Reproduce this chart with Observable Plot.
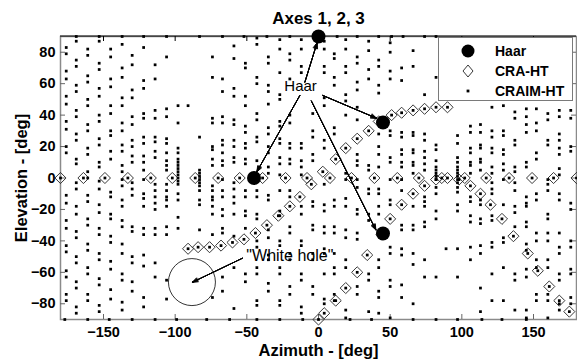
<!DOCTYPE html>
<html><head><meta charset="utf-8">
<script src="https://cdn.jsdelivr.net/npm/d3@7"></script>
<script src="https://cdn.jsdelivr.net/npm/@observablehq/plot@0.6"></script>
<style>
body{margin:0;background:#fff;}
#wrap{position:relative;width:577px;height:360px;font-family:"Liberation Sans",Arial,sans-serif;}
#legend{position:absolute;left:438px;top:37px;width:135px;height:64px;background:#fff;border:1px solid #7a7a7a;box-sizing:border-box;}
.row{position:absolute;left:0;width:134px;height:20px;}
.row svg{position:absolute;left:19px;top:0;}
.row span{position:absolute;left:56px;top:1px;font-size:14px;font-weight:bold;line-height:18px;}
</style></head>
<body><div id="wrap"></div>
<script>
// ---- data (azimuth, elevation in degrees) ----
const titleText = "Axes 1, 2, 3";
const xLabel = "Azimuth - [deg]";
const yLabel = "Elevation - [deg]";
const xTicks = [-150, -100, -50, 0, 50, 100, 150];
const yTicks = [-80, -60, -40, -20, 0, 20, 40, 60, 80];

const haarAz = [0, 45, -45, 45];
const haarEl = [90, 35.26, 0, -35.26];

const craEquatorAz = [-180,-164,-149,-133,-117,-102,-86,-70,-55,-39,-23,-8,8,23,39,55,70,86,102,117,133,149,164,180];
const craRiseAz = [-91,-84,-76,-68,-60,-52,-44,-36,-28,-20,-13,-5,3,12,19,27,35,42,51,58,66,74,82,90];
const craRiseEl = [-45,-44,-44,-43,-41,-39,-35,-30,-24,-18,-12,-4,4,12,19,25,30,36,40,41.5,43,44,45,45];
const craFallAz = [0,4,12,19,27,34,44,50,58,66,74,82,90,98,106,113,120,128,136,146,153,161,168,175];
const craFallEl = [-90,-86,-78,-70,-60,-49,-36,-26,-17,-10,-5,-1,0,-1,-5,-10,-17,-26,-37,-48,-59,-69,-78,-85];

// CRAIM-HT: columns of [azimuth, elevations]
const craimColumns = [
  [-176, [83,79,68,63,52,47,36,31,20,16,-11,-16,-27,-32,-43,-47,-59,-63,-74,-78]],
  [-169, [87,75,71,59,55,43,39,28,24,12,9,-3,-7,-18,-23,-34,-38,-50,-54,-66,-70,-82,-86]],
  [-161, [82,78,65,61,50,46,34,30,19,15,4,0,-11,-15,-26,-30,-42,-46,-57,-61,-74,-78]],
  [-153, [87,73,69,57,52,40,36,25,21,10,7,-2,-7,-17,-22,-32,-36,-48,-52,-64,-68,-81,-85]],
  [-145, [82,77,63,58,46,41,30,27,17,12,-9,-12,-23,-26,-37,-41,-53,-58,-71,-77]],
  [-137, [85,70,64,51,46,35,30,21,17,8,4,-1,-5,-14,-18,-27,-31,-42,-48,-61,-65,-79,-84]],
  [-130, [78,72,56,51,39,34,24,20,14,10,-3,-7,-11,-31,-34,-50,-54,-66,-72]],
  [-122, [83,62,57,41,38,26,22,14,10,5,-1,-10,-13,-18,-32,-36,-49,-56,-76,-82]],
  [-114, [72,63,43,38,26,23,17,13,-4,-8,-12,-16,-20,-32,-36,-54,-63]],
  [-106, [77,44,39,25,22,16,11,8,5,-4,-8,-12,-14,-18,-31,-36,-65,-77]],
  [-98, [46,35,19,16,12,10,8,6,4,2,0,-2,-4,-10,-14,-25,-32]],
  [-91, [46]],
  [-83, [26,5,3,1,-1,-3,-5,-8,-14,-17,-33]],
  [-74, [77,64,38,35,20,18,12,8,-5,-8,-12,-14,-18,-23,-36,-76]],
  [-67, [63,55,39,35,24,21,16,11,8,-1,-8,-12,-20,-24,-32,-35,-63,-72]],
  [-59, [84,76,57,52,37,34,24,20,13,10,-3,-7,-12,-16,-23,-37,-57,-83]],
  [-51, [73,70,52,46,33,29,22,19,12,9,-8,-12,-21,-24,-32,-61,-66]],
  [-43, [89,85,64,60,41,37,26,23,11,-8,-12,-23,-26,-40,-44,-57,-61,-78,-81]],
  [-35, [77,73,59,55,47,32,28,20,16,7,3,-11,-14,-33,-38,-49,-52,-67,-72]],
  [-27, [88,82,67,53,50,36,33,25,22,13,9,2,-8,-21,-24,-40,-43,-57,-61,-78,-81]],
  [-20, [79,75,63,40,35,22,19,12,9,-8,-12,-31,-35,-48,-52,-69,-74]],
  [-12, [88,82,71,67,22,19,11,7,2,-18,-23,-40,-43,-61,-65,-82,-86]],
  [-4, [41,30,26,15,11,-15,-18,-30,-33,-48,-52,-69,-74]],
  [4, [87,82,71,67,51,46,24,19,-4,-17,-21,-31,-35,-45,-48,-61,-77,-80]],
  [11, [79,76,64,59,32,28,-14,-18,-31,-35,-48,-57,-61,-74,-78]],
  [19, [88,82,71,67,53,49,40,3,-1,-13,-18,-33,-38,-52,-57,-84,-89]],
  [27, [77,73,61,56,45,37,15,11,8,-1,-6,-20,-23,-35,-39,-69,-74]],
  [35, [87,81,69,63,8,5,-7,-10,-23,-27,-61,-65,-85]],
  [42, [75,71,59,54,28,20,15,7,-7,-10,-18,-23,-52,-57,-72,-76,-86]],
  [50, [86,80,68,63,30,27,13,10,-1,-14,-17,-44,-48,-65,-69,-89]],
  [58, [70,62,29,26,18,15,10,7,-1,-8,-30,-33,-45,-49,-68,-76]],
  [66, [81,71,29,27,18,16,10,8,3,-18,-30,-33,-48,-55,-80]],
  [74, [53,28,24,17,13,9,5,-12,-15,-18,-28,-31,-52,-63]],
  [82, [64,21,18,11,7,5,3,1,-1,-6,-10,-21,-26,-63]],
  [89, [-45]],
  [97, [27,22,13,10,7,5,3,1,-1,-3,-6,-9,-17,-21,-45,-63]],
  [106, [33,29,19,16,10,8,3,-12,-15,-24,-28,-44,-52]],
  [113, [34,29,21,19,12,10,5,-14,-17,-26,-29,-43,-48,-70,-85]],
  [121, [45,30,26,19,16,7,3,-3,-7,-10,-24,-27,-41,-44,-61,-78]],
  [129, [46,30,27,18,15,9,5,-1,-17,-38,-41,-57,-78]],
  [137, [42,38,24,21,7,4,-3,-8,-18,-22,-31,-61,-65,-84]],
  [145, [44,39,34,29,10,7,-12,-16,-18,-28,-31,-42,-46,-58,-63,-84,-89]],
  [152, [44,35,30,16,12,-10,-14,-35,-40,-52,-57,-74,-78]],
  [160, [41,37,24,21,-1,-4,-8,-23,-26,-35,-40,-52,-57,-74,-78,-89]],
  [168, [43,39,28,24,19,15,6,2,-10,-14,-35,-44,-48,-61,-65,-80,-84]],
  [176, [43,38,20,17,-16,-20,-40,-44,-58,-61,-76,-80]]
];
const craimTopAz = [-169,-153,-137,-122,-106,-83,-67,-52,-36,-20,13,27,42,51,59,74,82];
const craimBottomAz = [-177,-161,-146,-130,-114,-99,-78,-62,-43,-27,-11,22,37,66,82,97,114,128,145];

// annotations
const haarLabel = {az: -12.5, el: 58.5, text: "Haar"};
const haarArrowFrom = [[-9.5, 61], [-13, 52.5], [3, 52.5], [-5, 49]];
const haarArrowTo = [[-1, 86], [-43, 4], [40.5, 38], [40, -33]];
const holeLabel = {az: -20, el: -49.4, text: "\"White hole\""};
const holeCircle = {az: -88.3, el: -66.2};
const holeArrow = {x1: -53, y1: -51, x2: -88, y2: -66.3};

// ---- build tables ----
const haar = haarAz.map((az, i) => ({az, el: haarEl[i]}));
const cra = [
  ...craEquatorAz.map(az => ({az, el: 0})),
  ...craRiseAz.map((az, i) => ({az, el: craRiseEl[i]})),
  ...craFallAz.map((az, i) => ({az, el: craFallEl[i]}))
];
const craim = [
  ...craimColumns.flatMap(([az, els]) => els.map(el => ({az, el}))),
  ...craimTopAz.map(az => ({az, el: 90})),
  ...craimBottomAz.map(az => ({az, el: -90})),
  ...cra
];
const arrows = haarArrowFrom.map((f, i) => ({x1: f[0], y1: f[1], x2: haarArrowTo[i][0], y2: haarArrowTo[i][1]}));

const font = "'Liberation Sans', Arial, sans-serif";
const innerH = 360 - 36 - 41, innerW = 577 - 60 - 1;

// filled-looking arrowheads: stacked arrows with narrowing head angles
const arrowMarks = (data, width, len) => [44, 34, 24, 14, 6].map(a =>
  Plot.arrow(data, {x1: "x1", y1: "y1", x2: "x2", y2: "y2", stroke: "black", strokeWidth: width, headLength: len, headAngle: a}));

const chart = Plot.plot({
  width: 577, height: 360,
  marginLeft: 60, marginRight: 1, marginTop: 36, marginBottom: 41,
  x: {domain: [-180, 180]},
  y: {domain: [-90, 90]},
  style: {fontFamily: font, background: "white", overflow: "visible", color: "black"},
  marks: [
    Plot.frame({stroke: "#8a8a8a", strokeWidth: 1.5}),
    Plot.axisX({ticks: xTicks, tickSize: 0, tickPadding: 7, fontSize: 14.5, fontWeight: "bold", label: null}),
    Plot.axisY({ticks: yTicks, tickSize: 0, tickPadding: 5, fontSize: 14.5, fontWeight: "bold", label: null}),
    Plot.tickX(xTicks, {x: d => d, insetTop: innerH - 5, stroke: "#666"}),
    Plot.tickX(xTicks, {x: d => d, insetBottom: innerH - 5, stroke: "black"}),
    Plot.tickY(yTicks, {y: d => d, insetRight: innerW - 5, stroke: "#666"}),
    Plot.tickY(yTicks, {y: d => d, insetLeft: innerW - 5, stroke: "#666"}),
    Plot.dot(cra, {x: "az", y: "el", symbol: "diamond2", r: 5, stroke: "#222", fill: "none", strokeWidth: 0.9}),
    Plot.dot(craim, {x: "az", y: "el", symbol: "square", r: 1.55, fill: "black", stroke: "none"}),
    Plot.dot(haar, {x: "az", y: "el", r: 7, fill: "black"}),
    ...arrowMarks(arrows, 0.9, 10),
    ...arrowMarks([holeArrow], 0.8, 11),
    Plot.dot([holeCircle], {x: "az", y: "el", r: 23.5, stroke: "black", fill: "none", strokeWidth: 0.8}),
    Plot.text([haarLabel], {x: "az", y: "el", text: "text", fontSize: 15, fill: "black"}),
    Plot.text([holeLabel], {x: "az", y: "el", text: "text", fontSize: 16, fill: "black"}),
    Plot.text([titleText], {text: d => d, frameAnchor: "top", lineAnchor: "middle", textAnchor: "middle", dy: -18, fontSize: 17, fontWeight: "bold"}),
    Plot.text([xLabel], {text: d => d, frameAnchor: "bottom", lineAnchor: "middle", textAnchor: "middle", dy: 31, fontSize: 16.5, fontWeight: "bold"}),
    Plot.text([yLabel], {text: d => d, frameAnchor: "left", lineAnchor: "middle", textAnchor: "middle", rotate: -90, dx: -39, fontSize: 16.5, fontWeight: "bold"})
  ]
});
const wrap = document.getElementById("wrap");
wrap.appendChild(chart);
// top border in black
d3.select(chart).append("line").attr("x1", 60).attr("x2", 576).attr("y1", 36).attr("y2", 36).attr("stroke", "black").attr("stroke-width", 1.2);

// legend
const legendItems = [
  {label: "Haar", kind: "haar"},
  {label: "CRA-HT", kind: "cra"},
  {label: "CRAIM-HT", kind: "craim"}
];
const legend = d3.select(wrap).append("div").attr("id", "legend");
legendItems.forEach((item, i) => {
  const row = legend.append("div").attr("class", "row").style("top", (3 + 20 * i) + "px");
  const svg = row.append("svg").attr("width", 20).attr("height", 20);
  if (item.kind === "haar") svg.append("circle").attr("cx", 10).attr("cy", 10).attr("r", 6.5).attr("fill", "black");
  if (item.kind === "cra") svg.append("path").attr("d", "M10,4L15,10L10,16L5,10Z").attr("fill", "none").attr("stroke", "#222").attr("stroke-width", 0.9);
  if (item.kind === "craim") svg.append("rect").attr("x", 8.6).attr("y", 8.6).attr("width", 2.8).attr("height", 2.8).attr("fill", "black");
  row.append("span").text(item.label);
});
</script></body></html>
